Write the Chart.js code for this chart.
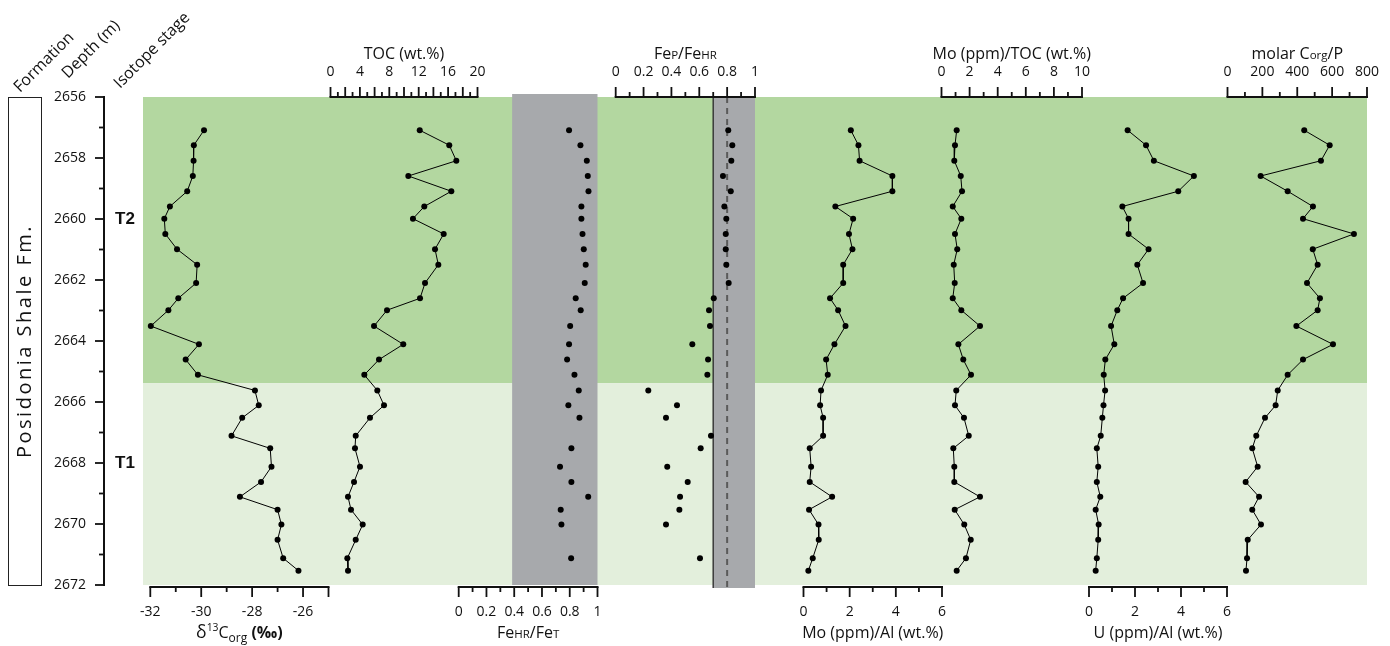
<!DOCTYPE html>
<html>
<head>
<meta charset="utf-8">
<script src="https://cdn.jsdelivr.net/npm/chart.js@4.4.1/dist/chart.umd.min.js"></script>
<style>
  html, body { margin: 0; padding: 0; background: #fff; }
</style>
</head>
<body>
<canvas id="chart" width="1390" height="646"></canvas>
<script>
// sample depths (m), shared by all series
const depth = [2657.09, 2657.58, 2658.09, 2658.59, 2659.09, 2659.59, 2659.99, 2660.49, 2660.99, 2661.50,
  2662.10, 2662.60, 2662.99, 2663.51, 2664.11, 2664.61, 2665.11, 2665.62, 2666.11, 2666.52,
  2667.11, 2667.52, 2668.12, 2668.62, 2669.11, 2669.53, 2670.02, 2670.52, 2671.12, 2671.53];

const d13Corg = [-29.89, -30.29, -30.30, -30.33, -30.55, -31.23, -31.45, -31.41, -30.95, -30.16,
  -30.20, -30.90, -31.29, -31.98, -30.09, -30.61, -30.13, -27.89, -27.74, -28.39,
  -28.81, -27.29, -27.24, -27.65, -28.48, -27.00, -26.85, -27.00, -26.78, -26.18];
const toc = [12.14, 16.16, 17.12, 10.59, 16.44, 12.76, 11.22, 15.40, 14.22, 14.67,
  12.86, 12.18, 7.69, 5.92, 9.90, 6.60, 4.60, 6.37, 7.28, 5.37,
  3.43, 3.33, 4.01, 3.20, 2.38, 2.79, 4.38, 3.43, 2.29, 2.38];
const feHrFeT = [0.795, 0.877, 0.923, 0.930, 0.935, 0.884, 0.884, 0.892, 0.901, 0.915,
  0.908, 0.843, 0.879, 0.803, 0.795, 0.781, 0.834, 0.865, 0.790, 0.870,
  null, 0.812, 0.730, 0.812, 0.933, 0.735, 0.740, null, 0.810, null];
const fePFeHr = [0.808, 0.837, 0.830, 0.770, 0.826, 0.780, 0.794, 0.790, 0.790, 0.794,
  0.811, 0.704, 0.670, 0.677, 0.550, 0.663, 0.658, 0.234, 0.440, 0.361,
  0.684, 0.610, 0.370, 0.517, 0.462, 0.457, 0.361, null, 0.605, null];
const moAl = [2.05, 2.38, 2.43, 3.85, 3.85, 1.38, 2.15, 1.97, 2.12, 1.72,
  1.72, 1.15, 1.50, 1.82, 1.34, 0.98, 1.05, 0.76, 0.72, 0.85,
  0.85, 0.27, 0.33, 0.27, 1.24, 0.24, 0.65, 0.66, 0.40, 0.21];
const moToc = [1.08, 0.96, 0.91, 1.37, 1.46, 0.80, 1.41, 0.96, 1.12, 0.87,
  0.94, 0.80, 1.41, 2.74, 1.20, 1.55, 2.10, 1.05, 0.96, 1.60,
  1.94, 0.84, 0.91, 0.91, 2.74, 0.94, 1.62, 2.08, 1.74, 1.08];
const uAl = [1.68, 2.48, 2.82, 4.56, 3.88, 1.45, 1.72, 1.72, 2.59, 2.10,
  2.35, 1.48, 1.23, 0.96, 1.10, 0.71, 0.64, 0.70, 0.63, 0.58,
  0.51, 0.34, 0.40, 0.34, 0.49, 0.29, 0.42, 0.40, 0.34, 0.29];
const corgP = [440, 586, 536, 190, 345, 490, 433, 725, 489, 517,
  456, 530, 517, 395, 605, 433, 345, 288, 276, 215,
  165, 142, 173, 104, 181, 142, 192, 116, 112, 106];

// isotope stages
const stageNames = ['T2', 'T1'];
const stageTop = [2656, 2665.38];
const stageBottom = [2665.38, 2672];
const stageLabelDepth = [2660, 2668];

// reference bands / lines
const feTBand = [0.385, 1];
const fePBand = [0.7, 1];
const fePSolidLine = 0.7;
const fePDashedLine = 0.8;

// tick labels
const depthTicks = [2656, 2658, 2660, 2662, 2664, 2666, 2668, 2670, 2672];
const d13cTicks = [-32, -30, -28, -26];
const tocTicks = [0, 4, 8, 12, 16, 20];
const feTicks = [0, 0.2, 0.4, 0.6, 0.8, 1];
const moAlTicks = [0, 2, 4, 6];
const moTocTicks = [0, 2, 4, 6, 8, 10];
const uAlTicks = [0, 2, 4, 6];
const corgPTicks = [0, 200, 400, 600, 800];

const FONT = '"Open Sans", "DejaVu Sans", sans-serif';
const AREA = { left: 143, right: 1367, top: 97, bottom: 585 };

// panel axes: value range and where it sits on the page
const panels = [
  { id: 'xD13C', lo: -32, hi: -25, px: [150.3, 328.5], side: 'bottom', step: 1, labels: d13cTicks,
    title: [{ t: 'δ', s: 1.1 }, { t: '13', s: 0.65, dy: -0.42 }, { t: 'C' }, { t: 'org', s: 0.75, dy: 0.25 }, { t: ' (‰)', b: true }] },
  { id: 'xTOC', lo: 0, hi: 20, px: [330.5, 477.5], side: 'top', step: 1, labels: tocTicks,
    title: [{ t: 'TOC (wt.%)' }] },
  { id: 'xFeT', lo: 0, hi: 1, px: [458.7, 597.5], side: 'bottom', step: 0.1, labels: feTicks,
    title: [{ t: 'Fe' }, { t: 'HR', s: 0.72 }, { t: '/Fe' }, { t: 'T', s: 0.72 }] },
  { id: 'xFeP', lo: 0, hi: 1, px: [615.7, 755], side: 'top', step: 0.1, labels: feTicks,
    title: [{ t: 'Fe' }, { t: 'P', s: 0.72 }, { t: '/Fe' }, { t: 'HR', s: 0.72 }] },
  { id: 'xMoAl', lo: 0, hi: 6, px: [803.5, 942], side: 'bottom', step: 1, labels: moAlTicks,
    title: [{ t: 'Mo (ppm)/Al (wt.%)' }] },
  { id: 'xMoTOC', lo: 0, hi: 10, px: [941.5, 1082], side: 'top', step: 1, labels: moTocTicks,
    title: [{ t: 'Mo (ppm)/TOC (wt.%)' }] },
  { id: 'xUAl', lo: 0, hi: 6, px: [1089, 1227], side: 'bottom', step: 1, labels: uAlTicks,
    title: [{ t: 'U (ppm)/Al (wt.%)' }] },
  { id: 'xCorgP', lo: 0, hi: 800, px: [1227.5, 1367], side: 'top', step: 100, labels: corgPTicks,
    title: [{ t: 'molar C' }, { t: 'org', s: 0.72 }, { t: '/P' }] },
];

// each hidden x scale spans the whole plot area so its panel lands on px[0]..px[1]
const scales = {
  y: { type: 'linear', reverse: true, min: 2656, max: 2672, display: false },
};
panels.forEach(p => {
  const k = (p.hi - p.lo) / (p.px[1] - p.px[0]);
  scales[p.id] = {
    type: 'linear', display: false,
    min: p.lo - (p.px[0] - AREA.left) * k,
    max: p.hi + (AREA.right - p.px[1]) * k,
  };
});

function series(values, xAxisID, showLine) {
  return {
    data: depth.map((d, i) => ({ x: values[i], y: d })).filter(pt => pt.x !== null),
    xAxisID, yAxisID: 'y', showLine,
    borderColor: '#000', borderWidth: 1,
    pointRadius: 3, pointBackgroundColor: '#000', pointBorderWidth: 0,
    clip: 6,
  };
}

function richText(ctx, parts, cx, baseY, size) {
  let w = 0;
  const items = parts.map(p => {
    const font = (p.b ? 'bold ' : '') + (size * (p.s || 1)) + 'px ' + FONT;
    ctx.font = font;
    const pw = ctx.measureText(p.t).width;
    w += pw;
    return { t: p.t, font, pw, dy: (p.dy || 0) * size };
  });
  let x = cx - w / 2;
  ctx.textAlign = 'left';
  ctx.textBaseline = 'alphabetic';
  items.forEach(it => {
    ctx.font = it.font;
    ctx.fillText(it.t, x, baseY + it.dy);
    x += it.pw;
  });
}

const backdrop = {
  id: 'backdrop',
  beforeDatasetsDraw(chart) {
    const { ctx, chartArea: a, scales: s } = chart;
    const colors = ['#b3d7a0', '#e3efdc'];
    ctx.save();
    stageNames.forEach((n, i) => {
      const y0 = s.y.getPixelForValue(stageTop[i]);
      const y1 = s.y.getPixelForValue(stageBottom[i]);
      ctx.fillStyle = colors[i];
      ctx.fillRect(a.left, y0, a.right - a.left, y1 - y0);
    });
    ctx.fillStyle = '#a7a9ac';
    let x0 = s.xFeT.getPixelForValue(feTBand[0]), x1 = s.xFeT.getPixelForValue(feTBand[1]);
    ctx.fillRect(x0, a.top - 3, x1 - x0, a.bottom - a.top + 3);
    x0 = s.xFeP.getPixelForValue(fePBand[0]); x1 = s.xFeP.getPixelForValue(fePBand[1]);
    ctx.fillRect(x0, a.top, x1 - x0, a.bottom - a.top + 3);

    let x = s.xFeP.getPixelForValue(fePSolidLine);
    ctx.strokeStyle = '#3a3a3a';
    ctx.lineWidth = 1.5;
    ctx.beginPath(); ctx.moveTo(x, a.top); ctx.lineTo(x, a.bottom + 3); ctx.stroke();
    x = s.xFeP.getPixelForValue(fePDashedLine);
    ctx.strokeStyle = '#5a5a5a';
    ctx.lineWidth = 2;
    ctx.setLineDash([6, 5]);
    ctx.beginPath(); ctx.moveTo(x, a.top); ctx.lineTo(x, a.bottom + 3); ctx.stroke();
    ctx.restore();
  }
};

const frame = {
  id: 'frame',
  afterDraw(chart) {
    const { ctx, chartArea: a, scales: s } = chart;
    ctx.save();
    ctx.fillStyle = '#111';
    ctx.strokeStyle = '#111';

    // panel axes
    panels.forEach(p => {
      const sc = s[p.id];
      const top = p.side === 'top';
      const yl = top ? a.top : a.bottom + 2;
      const dir = top ? -1 : 1;
      ctx.lineWidth = 2;
      ctx.beginPath();
      ctx.moveTo(sc.getPixelForValue(p.lo) - 1, yl);
      ctx.lineTo(sc.getPixelForValue(p.hi) + 1, yl);
      ctx.stroke();
      const n = Math.round((p.hi - p.lo) / p.step);
      ctx.lineWidth = 1.8;
      for (let i = 0; i <= n; i++) {
        const x = sc.getPixelForValue(p.lo + i * p.step);
        const len = (i % 2 === 0 || i === n) ? 10 : 5;
        ctx.beginPath();
        ctx.moveTo(x, yl);
        ctx.lineTo(x, yl + dir * len);
        ctx.stroke();
      }
      ctx.font = '14px ' + FONT;
      ctx.textAlign = 'center';
      ctx.textBaseline = 'middle';
      p.labels.forEach(v => ctx.fillText(String(v), sc.getPixelForValue(v), top ? 72 : 612));
      const cx = (sc.getPixelForValue(p.lo) + sc.getPixelForValue(p.hi)) / 2;
      richText(ctx, p.title, cx, top ? 59 : 638, 16);
    });

    // depth axis
    const xa = 104;
    ctx.lineWidth = 2;
    ctx.beginPath();
    ctx.moveTo(xa, s.y.getPixelForValue(2656) - 1);
    ctx.lineTo(xa, s.y.getPixelForValue(2672) + 1);
    ctx.stroke();
    ctx.lineWidth = 1.8;
    for (let d = 2656; d <= 2672; d++) {
      const y = s.y.getPixelForValue(d);
      const len = d % 2 === 0 ? 9 : 5;
      ctx.beginPath(); ctx.moveTo(xa, y); ctx.lineTo(xa - len, y); ctx.stroke();
    }
    ctx.font = '14px ' + FONT;
    ctx.textAlign = 'right';
    ctx.textBaseline = 'middle';
    depthTicks.forEach(d => ctx.fillText(String(d), 86, s.y.getPixelForValue(d)));

    // stage labels
    ctx.font = 'bold 17px "Liberation Sans", Arial, sans-serif';
    ctx.textAlign = 'center';
    stageNames.forEach((n, i) => ctx.fillText(n, 125, s.y.getPixelForValue(stageLabelDepth[i])));

    // formation column
    ctx.lineWidth = 1;
    ctx.strokeStyle = '#222';
    const fy0 = s.y.getPixelForValue(2656), fy1 = s.y.getPixelForValue(2672);
    ctx.strokeRect(8.5, fy0 + 0.5, 33, fy1 - fy0);
    ctx.save();
    ctx.translate(25, (fy0 + fy1) / 2);
    ctx.rotate(-Math.PI / 2);
    ctx.font = '20px ' + FONT;
    ctx.letterSpacing = '2.5px';
    ctx.textAlign = 'center';
    ctx.textBaseline = 'middle';
    ctx.fillText('Posidonia Shale Fm.', 0, 0);
    ctx.restore();

    // column headers
    const heads = [['Formation', 20, 93], ['Depth (m)', 68, 79], ['Isotope stage', 120, 89]];
    ctx.font = '16px ' + FONT;
    ctx.textAlign = 'left';
    ctx.textBaseline = 'alphabetic';
    heads.forEach(([t, x, y]) => {
      ctx.save();
      ctx.translate(x, y);
      ctx.rotate(-Math.PI / 4);
      ctx.fillText(t, 0, 0);
      ctx.restore();
    });
    ctx.restore();
  }
};

new Chart(document.getElementById('chart'), {
  type: 'scatter',
  data: {
    datasets: [
      series(d13Corg, 'xD13C', true),
      series(toc, 'xTOC', true),
      series(feHrFeT, 'xFeT', false),
      series(fePFeHr, 'xFeP', false),
      series(moAl, 'xMoAl', true),
      series(moToc, 'xMoTOC', true),
      series(uAl, 'xUAl', true),
      series(corgP, 'xCorgP', true),
    ],
  },
  options: {
    responsive: false,
    animation: false,
    layout: { padding: { left: AREA.left, right: 1390 - AREA.right, top: AREA.top, bottom: 646 - AREA.bottom } },
    plugins: { legend: { display: false }, tooltip: { enabled: false } },
    scales,
  },
  plugins: [backdrop, frame],
});
</script>
</body>
</html>
